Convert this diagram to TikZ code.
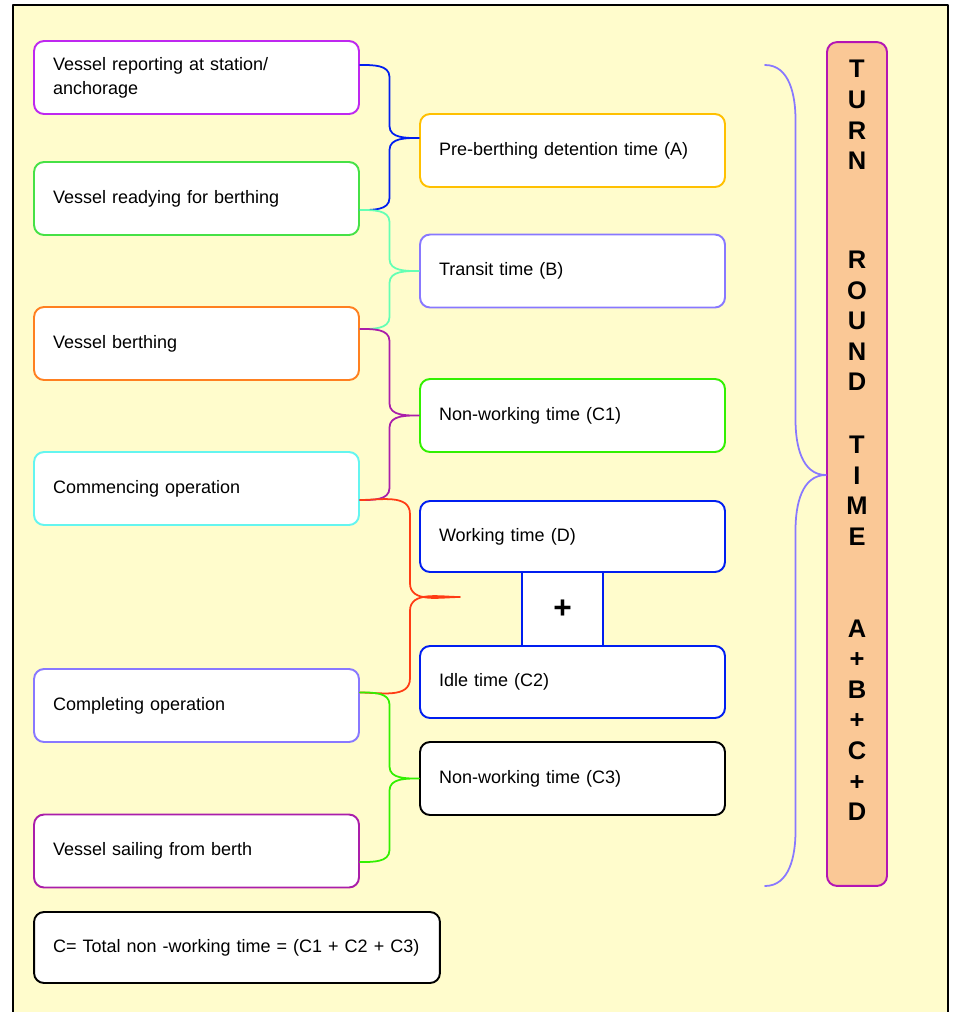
\documentclass[tikz,border=0pt]{standalone}
\usepackage{fontspec}
\setmainfont{Liberation Sans}
\usetikzlibrary{calc}

\definecolor{paper}{RGB}{255,252,204}
\definecolor{violetline}{RGB}{190,40,240}
\definecolor{greenline}{RGB}{70,225,70}
\definecolor{orangeline}{RGB}{255,128,32}
\definecolor{cyanline}{RGB}{100,245,240}
\definecolor{lavender}{RGB}{136,120,255}
\definecolor{plumline}{RGB}{170,30,170}
\definecolor{amber}{RGB}{255,192,0}
\definecolor{limeline}{RGB}{50,240,0}
\definecolor{royal}{RGB}{0,30,240}
\definecolor{aqua}{RGB}{100,255,180}
\definecolor{redline}{RGB}{255,60,20}
\definecolor{peach}{RGB}{250,200,150}
\definecolor{pillline}{RGB}{180,20,180}

% curly brace: colour, bend, top end, bottom end, tip
\newcommand{\curlyjoin}[5]{%
  \draw[#1] let \p1=(#3), \p2=(#4), \p3=(#5), \p4=($(#3)!0.5!(#5)$) in
    (\p1) to[out=0,in=90] (\x4,\y1-#2) -- (\x4,\y3+#2) to[out=-90,in=180] (\p3)
    to[out=180,in=90] (\x4,\y3-#2) -- (\x4,\y2+#2) to[out=-90,in=0] (\p2);
}

\begin{document}
\begin{tikzpicture}[x=0.02cm, y=-0.02cm, line cap=round, line join=round,
    box/.style={draw, rounded corners=0.2cm, fill=white, line width=1.1pt,
      minimum height=1.46cm, inner xsep=0.38cm, align=left,
      font=\fontsize{10.25}{13.6}\selectfont},
    stepleft/.style={box, text width=5.74cm},
    stepright/.style={box, text width=5.34cm},
    bracecurve/.style={line width=1pt}]

    \useasboundingbox (0,0) rectangle (953,1012);
    \clip (0,0) rectangle (953,1012);

    % Frame
    \draw[line width=1.5pt, fill=paper] (13,5) rectangle (948,1040);

    % Events on the left
    \node[stepleft, draw=violetline] (rep) at (196.5,77.5) {Vessel reporting at station/\\anchorage};
    \node[stepleft, draw=greenline] (ready) at (196.5,198.5) {Vessel readying for berthing};
    \node[stepleft, draw=orangeline] (berth) at (196.5,343.5) {Vessel berthing};
    \node[stepleft, draw=cyanline] (commence) at (196.5,488.5) {Commencing operation};
    \node[stepleft, draw=lavender] (complete) at (196.5,705.5) {Completing operation};
    \node[stepleft, draw=plumline] (sail) at (196.5,851) {Vessel sailing from berth};

    % Time components on the right
    \node[draw=royal, fill=white, line width=1.1pt, minimum width=1.62cm, minimum height=1.48cm,
      font=\fontsize{18}{20}\bfseries\selectfont] (plusbox) at (562.5,609) {+};
    \node[stepright, draw=amber] (predet) at (572.5,150.5) {Pre-berthing detention time (A)};
    \node[stepright, draw=lavender] (transit) at (572.5,271) {Transit time (B)};
    \node[stepright, draw=limeline] (nonworkA) at (572.5,415.5) {Non-working time (C1)};
    \node[stepright, draw=royal, minimum height=1.42cm] (working) at (572.5,536.5) {Working time (D)};
    \node[stepright, draw=royal, minimum height=1.44cm] (idle) at (572.5,682) {Idle time (C2)};
    \node[stepright, draw=black] (nonworkB) at (572.5,778.5) {Non-working time (C3)};

    % Total
    \node[box, draw=black, text width=7.36cm, minimum height=1.42cm] (total) at (237,947.5)
      {C= Total non -working time = (C1 + C2 + C3)};

    % Turn round time pill
    \node[draw=pillline, fill=peach, line width=1.1pt, rounded corners=0.2cm,
      minimum width=1.2cm, minimum height=16.88cm] (turn) at (857,464) {};
    \node[align=center, inner sep=0pt, font=\fontsize{14.5}{17.4}\bfseries\selectfont] (turnlbl) at (857,440.5)
      {T\\U\\R\\N\\[1.37cm]R\\O\\U\\N\\D\\[0.64cm]T\\I\\M\\E\\[1.23cm]A\\+\\B\\+\\C\\+\\D};

    % Brace ends
    \coordinate (j1) at ($(rep.east)+(0,-12.5)$);
    \coordinate (j2) at ($(ready.east)+(0,11.5)$);
    \coordinate (j3) at ($(berth.east)+(0,-14.5)$);
    \coordinate (j4) at ($(commence.east)+(0,11.5)$);
    \coordinate (j5) at ($(complete.east)+(0,-13)$);
    \coordinate (j6) at ($(sail.east)+(0,11)$);
    \coordinate (tipA) at ($(predet.west)+(0,-12.5)$);
    \coordinate (tipD) at (460,597);
    \coordinate (ttop) at (765,65);
    \coordinate (tbot) at (765,886);
    \coordinate (tipT) at ($(turn.west)+(0,11)$);

    % Braces
    \curlyjoin{bracecurve, royal}{0.24cm}{j1}{j2}{tipA}
    \curlyjoin{bracecurve, aqua}{0.24cm}{j2}{j3}{transit.west}
    \curlyjoin{bracecurve, plumline}{0.24cm}{j3}{j4}{nonworkA.west}
    \curlyjoin{bracecurve, redline}{0.28cm}{j4}{j5}{tipD}
    \curlyjoin{bracecurve, limeline}{0.24cm}{j5}{j6}{nonworkB.west}
    \curlyjoin{bracecurve, lavender}{1.1cm}{ttop}{tbot}{tipT}
\end{tikzpicture}
\end{document}
